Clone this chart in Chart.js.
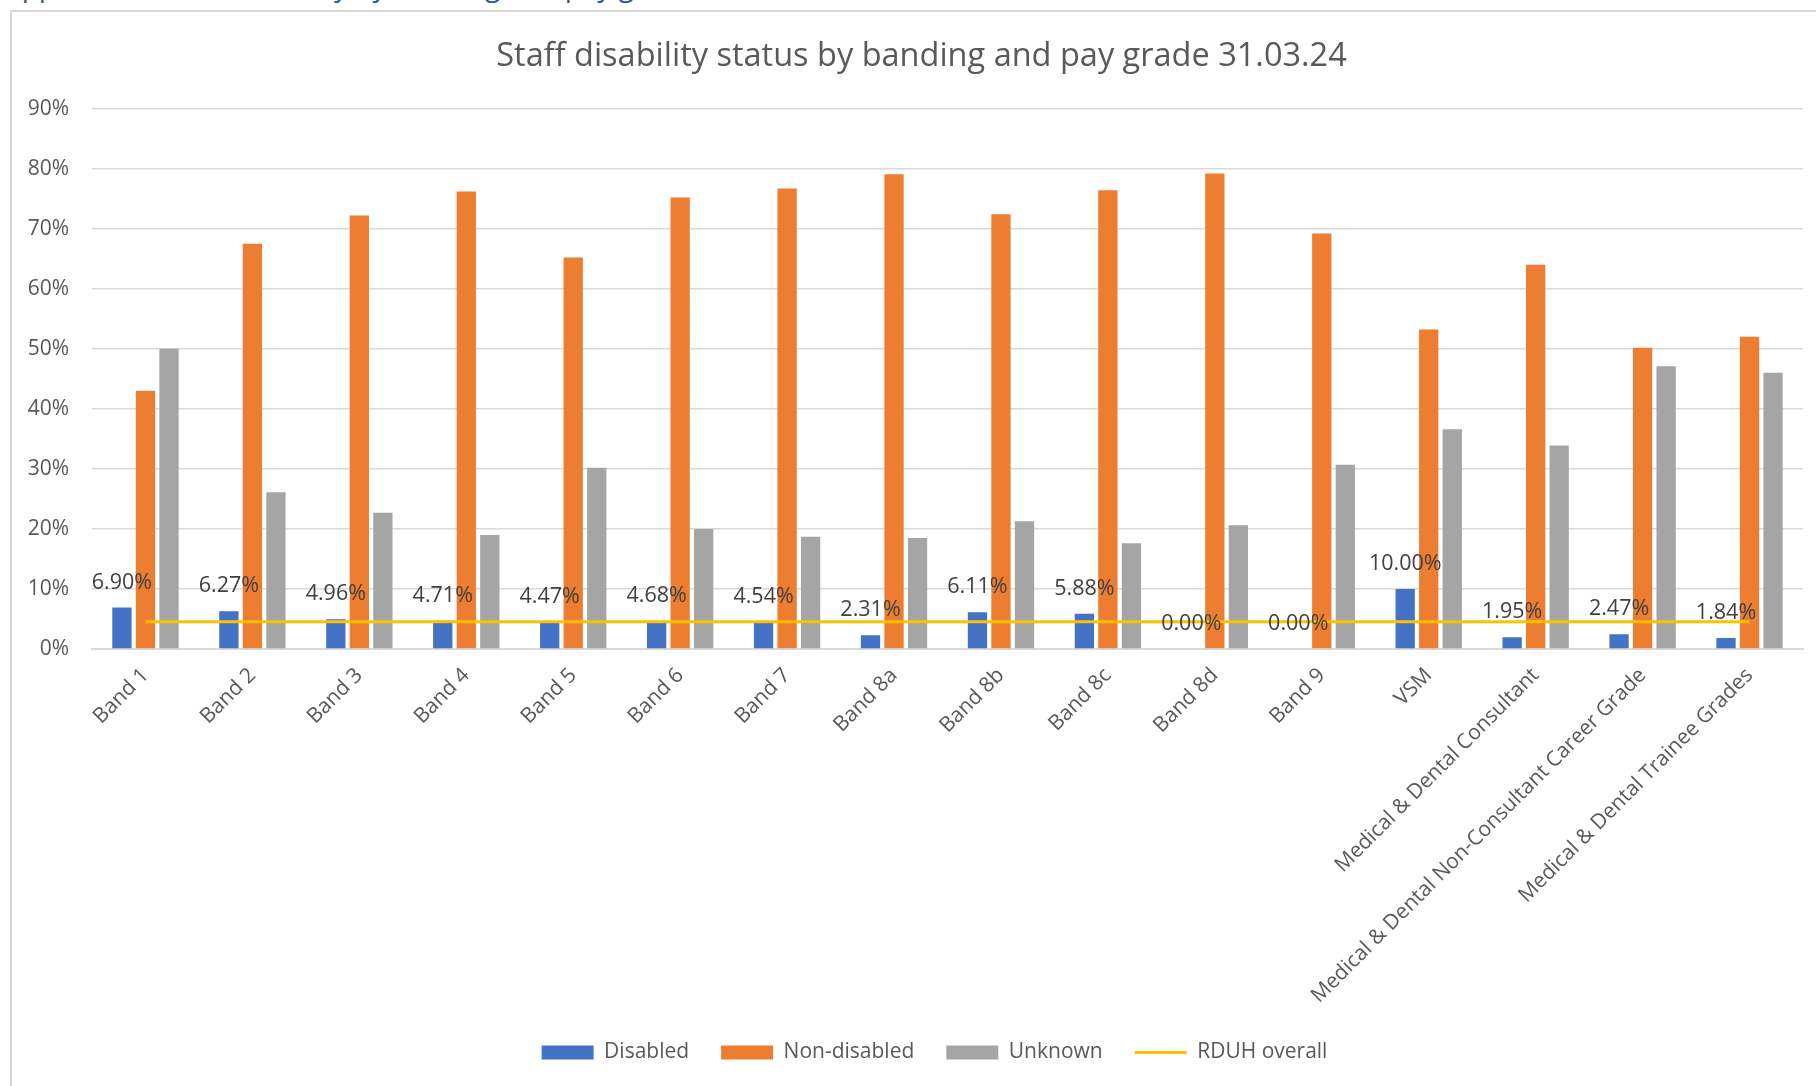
<!DOCTYPE html>
<html>
<head>
<meta charset="utf-8">
<script src="https://cdn.jsdelivr.net/npm/chart.js@4.4.1/dist/chart.umd.min.js"></script>
<style>
  html, body { margin: 0; padding: 0; background: #fff; overflow: hidden; }
  #heading {
    position: absolute; left: 4px; top: -34px; white-space: nowrap;
    font: 28px "Open Sans", sans-serif; color: #2f5597;
  }
  #frame {
    position: absolute; left: 10px; top: 10px; width: 1820px; height: 1090px;
    border-left: 2px solid #d9d9d9; border-top: 2px solid #d9d9d9;
  }
  #wrap { position: absolute; left: 0; top: 0; width: 1816px; height: 1086px; }
</style>
</head>
<body>
<div id="heading">Appendix 4: Staff disability by banding and pay grade</div>
<div id="frame"></div>
<div id="wrap"><canvas id="disabilityChart" width="1816" height="1086"></canvas></div>
<script>
// Values (percent of staff)
const grades = [
  "Band 1", "Band 2", "Band 3", "Band 4", "Band 5", "Band 6", "Band 7", "Band 8a",
  "Band 8b", "Band 8c", "Band 8d", "Band 9", "VSM", "Medical & Dental Consultant",
  "Medical & Dental Non-Consultant Career Grade", "Medical & Dental Trainee Grades"
];
const disabled = [6.90, 6.27, 4.96, 4.71, 4.47, 4.68, 4.54, 2.31, 6.11, 5.88, 0.00, 0.00, 10.00, 1.95, 2.47, 1.84];
const nonDisabled = [43.0, 67.5, 72.2, 76.2, 65.2, 75.2, 76.7, 79.1, 72.4, 76.4, 79.2, 69.2, 53.2, 64.0, 50.2, 52.0];
const unknown = [50.0, 26.1, 22.7, 19.0, 30.2, 20.0, 18.7, 18.5, 21.3, 17.6, 20.6, 30.7, 36.6, 33.9, 47.1, 46.0];
const rduhOverall = [4.53, 4.53, 4.53, 4.53, 4.53, 4.53, 4.53, 4.53, 4.53, 4.53, 4.53, 4.53, 4.53, 4.53, 4.53, 4.53];

const font = '"Open Sans", sans-serif';

// draws the % labels above the Disabled bars
const disabledLabels = {
  id: "disabledLabels",
  afterDatasetsDraw(chart) {
    const ctx = chart.ctx;
    const meta = chart.getDatasetMeta(0);
    ctx.save();
    ctx.font = "21.5px " + font;
    ctx.fillStyle = "#404040";
    ctx.textAlign = "center";
    ctx.textBaseline = "middle";
    meta.data.forEach((bar, i) => {
      ctx.fillText(disabled[i].toFixed(2) + "%", bar.x, bar.y - 25);
    });
    ctx.restore();
  }
};

// title and legend sit a bit right of centre in the original
const nudgeBoxes = {
  id: "nudgeBoxes",
  afterLayout(chart) {
    chart.legend.left += 33;
    chart.legend.right += 33;
    chart.titleBlock.left += 20;
    chart.titleBlock.right += 20;
  }
};

const ctx = document.getElementById("disabilityChart").getContext("2d");
new Chart(ctx, {
  type: "bar",
  data: {
    labels: grades,
    datasets: [
      { label: "Disabled", data: disabled, backgroundColor: "#4472c4", pointStyle: "rect", order: 1 },
      { label: "Non-disabled", data: nonDisabled, backgroundColor: "#ed7d31", pointStyle: "rect", order: 1 },
      { label: "Unknown", data: unknown, backgroundColor: "#a5a5a5", pointStyle: "rect", order: 1 },
      {
        type: "line", label: "RDUH overall", data: rduhOverall,
        borderColor: "#ffc000", backgroundColor: "#ffc000", borderWidth: 3,
        pointRadius: 0, pointStyle: "line", order: 0
      }
    ]
  },
  options: {
    responsive: false,
    animation: false,
    categoryPercentage: 0.66,
    barPercentage: 0.82,
    layout: { padding: { left: 0, right: 13, top: 10, bottom: 13 } },
    plugins: {
      title: {
        display: true,
        text: "Staff disability status by banding and pay grade 31.03.24",
        color: "#595959",
        font: { family: font, size: 32.5, weight: "normal" },
        padding: { top: 27.5, bottom: 32.2 }
      },
      legend: {
        position: "bottom",
        labels: {
          usePointStyle: true,
          pointStyleWidth: 52,
          boxHeight: 14,
          padding: 32,
          color: "#595959",
          font: { family: font, size: 21 },
          sort: (a, b) => a.datasetIndex - b.datasetIndex
        }
      },
      tooltip: { enabled: false }
    },
    scales: {
      x: {
        grid: { display: false },
        border: { color: "#d9d9d9", width: 2 },
        ticks: {
          color: "#595959", font: { family: font, size: 21 },
          maxRotation: 45, minRotation: 45, autoSkip: false, padding: 6
        },
        afterFit(scale) { scale.height = 361; }
      },
      y: {
        min: 0, max: 90,
        grid: { color: "#d9d9d9", lineWidth: 1.5, drawTicks: false },
        border: { display: false },
        ticks: {
          stepSize: 10, padding: 23, color: "#595959",
          font: { family: font, size: 21 },
          callback: (v) => v + "%"
        },
        afterFit(scale) { scale.width = 92; }
      }
    }
  },
  plugins: [disabledLabels, nudgeBoxes]
});
</script>
</body>
</html>
